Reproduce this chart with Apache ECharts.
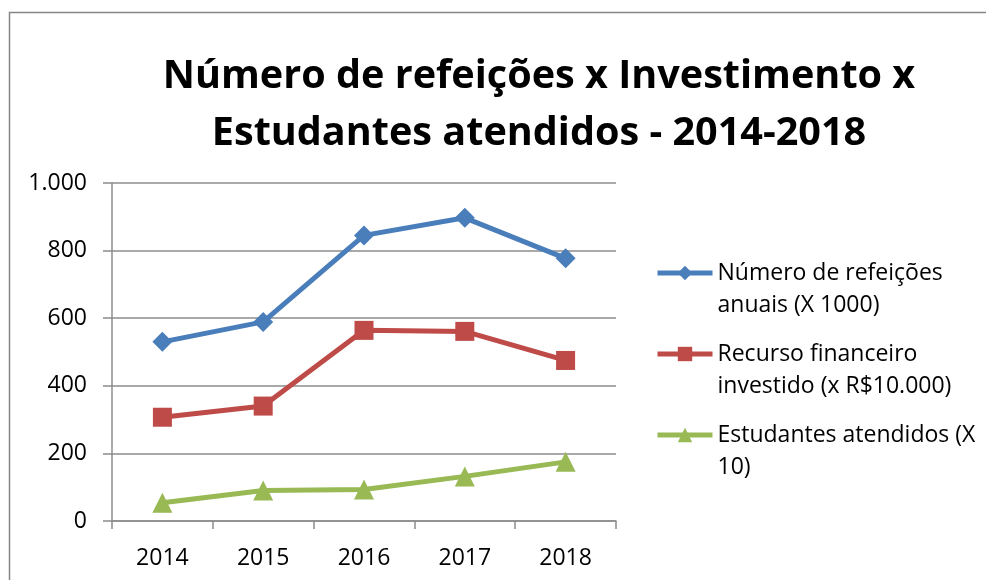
<!DOCTYPE html>
<html>
<head>
<meta charset="utf-8">
<script src="https://cdn.jsdelivr.net/npm/echarts@6/dist/echarts.min.js"></script>
<style>
  html, body { margin: 0; padding: 0; background: #fff; }
  #chart { width: 986px; height: 580px; }
</style>
</head>
<body>
<div id="chart"></div>
<script>
var years = ['2014', '2015', '2016', '2017', '2018']
var refeicoes = [530, 589, 845, 897, 777]
var recurso = [307, 340, 564, 561, 475]
var estudantes = [54, 90, 93, 132, 175]
var seriesNames = [
  'Número de refeições\nanuais (X 1000)',
  'Recurso financeiro\ninvestido (x R$10.000)',
  'Estudantes atendidos (X\n10)'
]

var font = "'Open Sans', 'Noto Sans', sans-serif"
var gridColor = '#8c8c8c'

// each legend entry is its own legend so the icon sits on the first text line
function legendFor (name, top) {
  return {
    data: [name],
    left: 655,
    top: top,
    padding: 0,
    orient: 'vertical',
    itemWidth: 55,
    itemHeight: 18,
    itemGap: 0,
    selectedMode: false,
    lineStyle: { width: 5 },
    formatter: function (n) {
      return '\n' + n
    },
    textStyle: {
      fontFamily: font,
      fontSize: 23,
      color: '#000',
      lineHeight: 32
    }
  }
}

var myChart = echarts.init(document.getElementById('chart'))
myChart.setOption({
  animation: false,
  backgroundColor: '#fff',
  graphic: [
    {
      type: 'rect',
      shape: { x: 9.5, y: 12.5, width: 1100, height: 700 },
      style: { fill: 'none', stroke: '#868686', lineWidth: 1.5 },
      silent: true
    }
  ],
  title: {
    text: 'Número de refeições x Investimento x\nEstudantes atendidos - 2014-2018',
    left: 534,
    top: 43,
    textAlign: 'center',
    textStyle: {
      fontFamily: font,
      fontWeight: 'bold',
      fontSize: 39.6,
      lineHeight: 57,
      color: '#000'
    }
  },
  legend: [
    legendFor(seriesNames[0], 225),
    legendFor(seriesNames[1], 306),
    legendFor(seriesNames[2], 387)
  ],
  grid: {
    left: 112,
    right: 370,
    top: 183,
    bottom: 59
  },
  xAxis: {
    type: 'category',
    data: years,
    boundaryGap: true,
    axisLine: { lineStyle: { color: gridColor, width: 1.5 } },
    axisTick: { show: true, length: 8, lineStyle: { color: gridColor, width: 1.5 } },
    axisLabel: { margin: 26, fontFamily: font, fontSize: 23, color: '#000' }
  },
  yAxis: {
    type: 'value',
    min: 0,
    max: 1000,
    interval: 200,
    axisLine: { show: true, lineStyle: { color: gridColor, width: 1.5 } },
    axisTick: { show: true, length: 9, lineStyle: { color: gridColor, width: 1.5 } },
    splitLine: { lineStyle: { color: gridColor, width: 1.5 } },
    axisLabel: {
      margin: 25,
      fontFamily: font,
      fontSize: 23,
      color: '#000',
      formatter: function (v) {
        return String(v).replace(/\B(?=(\d{3})+(?!\d))/g, '.')
      }
    }
  },
  series: [
    {
      name: seriesNames[0],
      type: 'line',
      data: refeicoes,
      symbol: 'diamond',
      symbolSize: 20,
      color: '#4a7ebb',
      lineStyle: { width: 5 }
    },
    {
      name: seriesNames[1],
      type: 'line',
      data: recurso,
      symbol: 'rect',
      symbolSize: 19,
      color: '#be4b48',
      lineStyle: { width: 5 }
    },
    {
      name: seriesNames[2],
      type: 'line',
      data: estudantes,
      symbol: 'triangle',
      symbolSize: 20,
      color: '#98b954',
      lineStyle: { width: 5 }
    }
  ]
})
</script>
</body>
</html>
